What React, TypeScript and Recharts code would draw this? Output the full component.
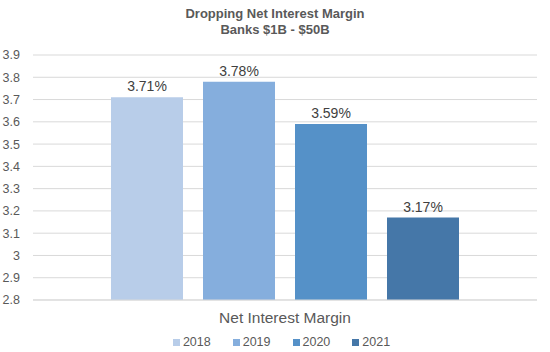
import React from "react"
import {
  BarChart,
  Bar,
  XAxis,
  YAxis,
  CartesianGrid,
  Legend,
  LabelList,
} from "recharts"

const CATEGORIES = ["Net Interest Margin"]
const YEARS = ["2018", "2019", "2020", "2021"]
const MARGINS = [3.71, 3.78, 3.59, 3.17]
const Y_TICKS = [2.8, 2.9, 3, 3.1, 3.2, 3.3, 3.4, 3.5, 3.6, 3.7, 3.8, 3.9]

const COLORS = ["#b8cde9", "#85aedd", "#5591c8", "#4577a8"]

const FONT = "'Liberation Sans', Arial, sans-serif"

const data = CATEGORIES.map((name) => {
  const row: Record<string, string | number> = { name }
  YEARS.forEach((y, i) => {
    row[y] = MARGINS[i]
  })
  return row
})

// legend with wider spacing like the original
const renderLegend = () => (
  <div
    style={{
      display: "flex",
      justifyContent: "center",
      fontSize: 12.5,
      color: "#595959",
      fontFamily: FONT,
      height: 20,
      alignItems: "center",
      paddingLeft: 24,
      marginTop: -1,
    }}
  >
    {YEARS.map((y, i) => (
      <div
        key={y}
        style={{ display: "flex", alignItems: "center", margin: "0 11px" }}
      >
        <span
          style={{
            display: "inline-block",
            width: 7,
            height: 7,
            background: COLORS[i],
            marginRight: 3,
          }}
        />
        {y}
      </div>
    ))}
  </div>
)

export default function App() {
  return (
    <div
      style={{
        position: "absolute",
        left: 0,
        top: 0,
        width: 550,
        height: 352,
        background: "#fff",
        fontFamily: FONT,
      }}
    >
      {/* Title */}
      <div
        style={{
          position: "absolute",
          top: 6,
          left: 0,
          width: 550,
          textAlign: "center",
          fontSize: 13,
          fontWeight: "bold",
          color: "#595959",
          lineHeight: "16px",
        }}
      >
        Dropping Net Interest Margin
        <br />
        Banks $1B - $50B
      </div>

      <BarChart
        width={550}
        height={352}
        data={data}
        margin={{ top: 55, right: 13, left: 2, bottom: 0 }}
        barGap={20}
      >
        <CartesianGrid vertical={false} stroke="#d9d9d9" />
        <XAxis
          dataKey="name"
          height={33}
          axisLine={{ stroke: "#d9d9d9" }}
          tickLine={false}
          tick={{ fill: "#595959", fontSize: 15.5, fontFamily: FONT }}
          tickMargin={6}
        />
        <YAxis
          width={31}
          domain={[2.8, 3.9]}
          ticks={Y_TICKS}
          axisLine={false}
          tickLine={false}
          interval={0}
          allowDataOverflow
          tick={{ fill: "#595959", fontSize: 12.5, fontFamily: FONT }}
          tickMargin={7}
        />
        <Legend verticalAlign="bottom" content={renderLegend} />
        {YEARS.map((y, i) => (
          <Bar
            key={y}
            dataKey={y}
            fill={COLORS[i]}
            barSize={72}
            isAnimationActive={false}
          >
            <LabelList
              dataKey={y}
              position="top"
              offset={6}
              formatter={(v: number) => `${v.toFixed(2)}%`}
              style={{ fill: "#404040", fontSize: 14, fontFamily: FONT }}
            />
          </Bar>
        ))}
      </BarChart>
    </div>
  )
}
